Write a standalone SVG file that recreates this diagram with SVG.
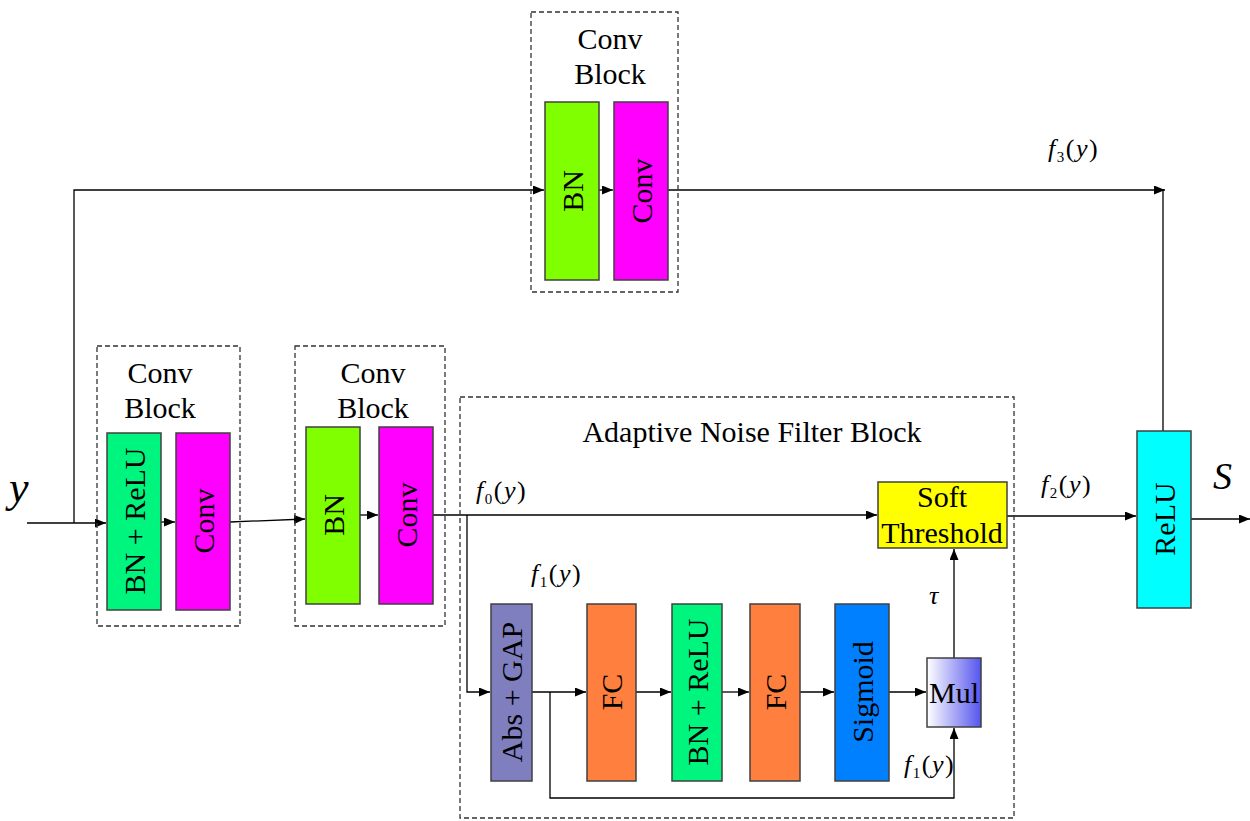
<svg xmlns="http://www.w3.org/2000/svg" width="1250" height="821" viewBox="0 0 1250 821">
<defs>
<marker id="ah" markerWidth="11" markerHeight="9" refX="11" refY="4.5" orient="auto" markerUnits="userSpaceOnUse">
<path d="M0,0 L11,4.5 L0,9 Z" fill="#000"/>
</marker>
<linearGradient id="mulg" x1="0" y1="0" x2="1" y2="0">
<stop offset="0" stop-color="#ffffff"/>
<stop offset="1" stop-color="#5555ee"/>
</linearGradient>
<style>
.box{stroke:#404040;stroke-width:1.5}
.dash{fill:none;stroke:#333;stroke-width:1.3;stroke-dasharray:5,3}
.t{font-family:"Liberation Serif","Times New Roman",serif;font-size:30px;fill:#000}
.r{text-anchor:middle;dominant-baseline:central}
.m{font-family:"Liberation Serif","Times New Roman",serif;font-size:26px;fill:#000;letter-spacing:1.5px}
.ln{fill:none;stroke:#000;stroke-width:1.3}
</style>
</defs>
<rect width="1250" height="821" fill="#fff"/>

<g id="connectors">
<path class="ln" d="M27,523 H106" marker-end="url(#ah)"/>
<path class="ln" d="M74,523 V190 H544" marker-end="url(#ah)"/>
<path class="ln" d="M161,522 H175" marker-end="url(#ah)"/>
<path class="ln" d="M230,522 L305,519" marker-end="url(#ah)"/>
<path class="ln" d="M360,515 H378" marker-end="url(#ah)"/>
<path class="ln" d="M599,190 H613" marker-end="url(#ah)"/>
<path class="ln" d="M668,190 H1165" marker-end="url(#ah)"/>
<path class="ln" d="M1163,190 V431"/>
<path class="ln" d="M433,515 H877" marker-end="url(#ah)"/>
<path class="ln" d="M467,515 V692 H490" marker-end="url(#ah)"/>
<path class="ln" d="M532,692 H586" marker-end="url(#ah)"/>
<path class="ln" d="M636,692 H671" marker-end="url(#ah)"/>
<path class="ln" d="M722,692 H749" marker-end="url(#ah)"/>
<path class="ln" d="M800,692 H834" marker-end="url(#ah)"/>
<path class="ln" d="M889,692 H926" marker-end="url(#ah)"/>
<path class="ln" d="M550,692 V798 H954 V728" marker-end="url(#ah)"/>
<path class="ln" d="M954,658 V549" marker-end="url(#ah)"/>
<path class="ln" d="M1007,516 H1136" marker-end="url(#ah)"/>
<path class="ln" d="M1191,519 H1250" marker-end="url(#ah)"/>
</g>

<g id="convblock1">
<rect class="dash" x="97" y="346" width="143" height="280"/>
<text class="t" x="160" y="383" text-anchor="middle">Conv</text>
<text class="t" x="160" y="418" text-anchor="middle">Block</text>
</g>
<g id="bnrelu1">
<rect class="box" x="107" y="433" width="54" height="177" fill="#00f57f"/>
<text class="t r" transform="translate(134,521) rotate(-90)">BN + ReLU</text>
</g>
<g id="conv1">
<rect class="box" x="176" y="433" width="54" height="177" fill="#ff00ff"/>
<text class="t r" transform="translate(203,521) rotate(-90)">Conv</text>
</g>

<g id="convblock2">
<rect class="dash" x="295" y="346" width="150" height="280"/>
<text class="t" x="373" y="383" text-anchor="middle">Conv</text>
<text class="t" x="373" y="418" text-anchor="middle">Block</text>
</g>
<g id="bn2">
<rect class="box" x="306" y="427" width="54" height="177" fill="#80ff00"/>
<text class="t r" transform="translate(333,515) rotate(-90)">BN</text>
</g>
<g id="conv2">
<rect class="box" x="379" y="427" width="54" height="177" fill="#ff00ff"/>
<text class="t r" transform="translate(406,515) rotate(-90)">Conv</text>
</g>

<g id="convblock3">
<rect class="dash" x="531" y="12" width="147" height="280"/>
<text class="t" x="610" y="49" text-anchor="middle">Conv</text>
<text class="t" x="610" y="84" text-anchor="middle">Block</text>
</g>
<g id="bn3">
<rect class="box" x="545" y="102" width="54" height="178" fill="#80ff00"/>
<text class="t r" transform="translate(572,191) rotate(-90)">BN</text>
</g>
<g id="conv3">
<rect class="box" x="614" y="102" width="54" height="178" fill="#ff00ff"/>
<text class="t r" transform="translate(641,191) rotate(-90)">Conv</text>
</g>

<g id="anfblock">
<rect class="dash" x="460" y="397" width="554" height="421"/>
<text class="t" x="752" y="442" text-anchor="middle">Adaptive Noise Filter Block</text>
</g>
<g id="softthreshold">
<rect class="box" x="878" y="482" width="129" height="66" fill="#ffff00"/>
<text class="t" x="942" y="507" text-anchor="middle">Soft</text>
<text class="t" x="942" y="543" text-anchor="middle">Threshold</text>
</g>
<g id="absgap">
<rect class="box" x="491" y="604" width="41" height="177" fill="#7f7fbf"/>
<text class="t r" transform="translate(511.5,692) rotate(-90)">Abs + GAP</text>
</g>
<g id="fc1">
<rect class="box" x="587" y="604" width="49" height="177" fill="#ff7f3f"/>
<text class="t r" transform="translate(611.5,692) rotate(-90)">FC</text>
</g>
<g id="bnrelu2">
<rect class="box" x="672" y="604" width="50" height="177" fill="#00f57f"/>
<text class="t r" transform="translate(697,692) rotate(-90)">BN + ReLU</text>
</g>
<g id="fc2">
<rect class="box" x="750" y="604" width="50" height="177" fill="#ff7f3f"/>
<text class="t r" transform="translate(775,692) rotate(-90)">FC</text>
</g>
<g id="sigmoid">
<rect class="box" x="835" y="604" width="54" height="177" fill="#0080ff"/>
<text class="t r" transform="translate(862,692) rotate(-90)">Sigmoid</text>
</g>
<g id="mul">
<rect class="box" x="927" y="658" width="54" height="69" fill="url(#mulg)"/>
<text class="t" x="954" y="703" text-anchor="middle">Mul</text>
</g>
<g id="relu">
<rect class="box" x="1137" y="431" width="54" height="177" fill="#00ffff"/>
<text class="t r" transform="translate(1164,519) rotate(-90)">ReLU</text>
</g>

<g id="labels">
<text class="m" x="9" y="502" style="font-size:44px;font-style:italic">y</text>
<text class="m" x="1213" y="489" style="font-size:38px;font-style:italic">S</text>
<text class="m" x="476" y="499"><tspan font-style="italic">f</tspan><tspan font-size="15" dy="5">0</tspan><tspan dy="-5">(</tspan><tspan font-style="italic">y</tspan>)</text>
<text class="m" x="531" y="582"><tspan font-style="italic">f</tspan><tspan font-size="15" dy="5">1</tspan><tspan dy="-5">(</tspan><tspan font-style="italic">y</tspan>)</text>
<text class="m" x="904" y="773"><tspan font-style="italic">f</tspan><tspan font-size="15" dy="5">1</tspan><tspan dy="-5">(</tspan><tspan font-style="italic">y</tspan>)</text>
<text class="m" x="1041" y="493"><tspan font-style="italic">f</tspan><tspan font-size="15" dy="5">2</tspan><tspan dy="-5">(</tspan><tspan font-style="italic">y</tspan>)</text>
<text class="m" x="1048" y="157"><tspan font-style="italic">f</tspan><tspan font-size="15" dy="5">3</tspan><tspan dy="-5">(</tspan><tspan font-style="italic">y</tspan>)</text>
<text class="m" x="929" y="604" style="font-style:italic">τ</text>
</g>
</svg>
